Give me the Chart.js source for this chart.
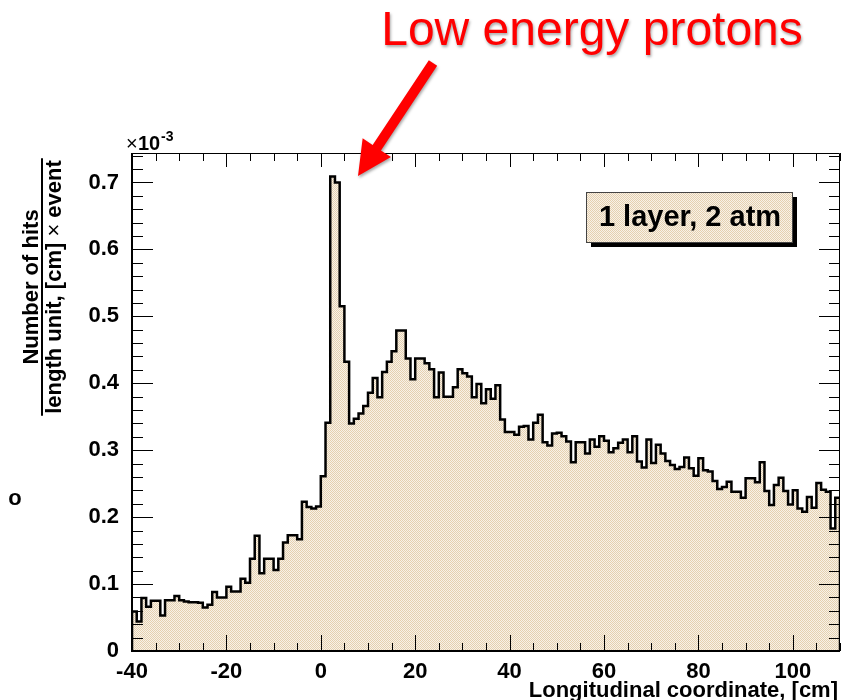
<!DOCTYPE html>
<html>
<head>
<meta charset="utf-8">
<script src="https://cdn.jsdelivr.net/npm/chart.js@4.4.1/dist/chart.umd.min.js"></script>
<style>
  html, body { margin: 0; padding: 0; background: #fff; }
  #wrap { position: relative; width: 854px; height: 700px; }
</style>
</head>
<body>
<div id="wrap"><canvas id="histo" width="854" height="700"></canvas></div>
<script>
// histogram: 1 cm bins from -40 to 110 cm, values in units of 1e-3
const binStart = -40;
const binWidth = 1;
const hitsBack = [0.059, 0.044, 0.079, 0.066, 0.075, 0.075, 0.053, 0.076, 0.076, 0.082, 0.076, 0.074, 0.073,
                  0.073, 0.072, 0.065, 0.069, 0.088, 0.080, 0.080, 0.096, 0.089, 0.089, 0.108, 0.102];
const hitsRise = [0.138, 0.172, 0.116, 0.138, 0.138, 0.121, 0.138, 0.162, 0.173, 0.173, 0.167, 0.223, 0.215, 0.213, 0.216];
const hitsPeak = [0.261, 0.341, 0.709, 0.700, 0.515, 0.432, 0.340, 0.347, 0.355, 0.366];
const hitsMid = [0.386, 0.408, 0.379, 0.417, 0.432, 0.448, 0.479, 0.479, 0.437, 0.406, 0.437, 0.437,
                 0.430, 0.421, 0.379, 0.416, 0.380, 0.380, 0.394, 0.421, 0.415, 0.410, 0.379, 0.399];
const hitsFar = [0.370, 0.391, 0.377, 0.397, 0.346, 0.327, 0.327, 0.323, 0.335, 0.336, 0.316, 0.341,
                 0.353, 0.312, 0.307, 0.325, 0.326, 0.321, 0.313, 0.282, 0.312, 0.312, 0.295, 0.316];
const hitsTail = [0.305, 0.321, 0.314, 0.297, 0.303, 0.311, 0.316, 0.297, 0.321, 0.283, 0.274, 0.316, 0.281,
                  0.308, 0.295, 0.284, 0.278, 0.272, 0.275, 0.289, 0.273, 0.262, 0.288, 0.270, 0.268, 0.254];
const hitsEnd = [0.242, 0.245, 0.253, 0.238, 0.238, 0.229, 0.258, 0.258, 0.252, 0.282, 0.239, 0.218, 0.248,
                 0.259, 0.239, 0.219, 0.240, 0.213, 0.208, 0.230, 0.214, 0.251, 0.241, 0.238, 0.183, 0.229];

const xTicks = [-40, -20, 0, 20, 40, 60, 80, 100];
const yTicks = [0, 0.1, 0.2, 0.3, 0.4, 0.5, 0.6, 0.7];
const yMax = 0.744;

const hits = [].concat(hitsBack, hitsRise, hitsPeak, hitsMid, hitsFar, hitsTail, hitsEnd);
const xEnd = binStart + hits.length * binWidth;

// step outline: each point holds the bin's value from its low edge
const steps = [{ x: binStart, y: 0 }];
hits.forEach((v, i) => steps.push({ x: binStart + i * binWidth, y: v }));
steps.push({ x: xEnd, y: hits[hits.length - 1] });
steps.push({ x: xEnd, y: 0 });

const canvas = document.getElementById("histo");
const ctx0 = canvas.getContext("2d");

// beige dotted fill like the ROOT pattern
function beigePattern() {
    const c = document.createElement("canvas");
    c.width = 2; c.height = 2;
    const g = c.getContext("2d");
    g.fillStyle = "#f8f2e8";
    g.fillRect(0, 0, 2, 2);
    g.fillStyle = "#e5d0b0";
    g.fillRect(0, 0, 1, 1);
    g.fillRect(1, 1, 1, 1);
    return ctx0.createPattern(c, "repeat");
}
const fillPat = beigePattern();

const FONT = '"Liberation Sans", Arial, Helvetica, sans-serif';

// frame, ROOT style ticks and all the extra labels
const rootDecor = {
    id: "rootDecor",
    afterDraw(chart) {
        const { ctx, chartArea: a, scales } = chart;
        const x = scales.x, y = scales.y;
        ctx.save();

        // ticks
        ctx.strokeStyle = "#000";
        ctx.lineWidth = 1;
        ctx.beginPath();
        for (let v = -40; v <= 110; v += 5) {
            const px = Math.round(x.getPixelForValue(v)) + 0.5;
            const big = v % 20 === 0;
            ctx.moveTo(px, a.bottom);
            ctx.lineTo(px, a.bottom - (big ? 16 : 8));
            ctx.moveTo(px, a.top);
            ctx.lineTo(px, a.top + (big ? 14 : 8));
        }
        for (let k = 0; k <= 37; k++) {
            const py = Math.round(y.getPixelForValue(k * 0.02)) + 0.5;
            const big = k % 5 === 0;
            ctx.moveTo(a.left, py);
            ctx.lineTo(a.left + (big ? 21 : 11), py);
            ctx.moveTo(a.right, py);
            ctx.lineTo(a.right - (big ? 21 : 11), py);
        }
        ctx.stroke();

        // frame
        ctx.beginPath();
        ctx.moveTo(a.left, a.top + 0.5);
        ctx.lineTo(a.right - 0.5, a.top + 0.5);
        ctx.lineTo(a.right - 0.5, a.bottom);
        ctx.stroke();
        ctx.lineWidth = 2;
        ctx.beginPath();
        ctx.moveTo(a.left, a.top);
        ctx.lineTo(a.left, a.bottom);
        ctx.lineTo(a.right, a.bottom);
        ctx.stroke();

        ctx.fillStyle = "#000";
        ctx.textBaseline = "alphabetic";

        // x10^-3 multiplier
        ctx.textAlign = "left";
        ctx.font = "20px " + FONT;
        ctx.fillText("\u00d7", 126, 150);
        ctx.font = "bold 20px " + FONT;
        ctx.fillText("10", 138, 150);
        ctx.font = "bold 14px " + FONT;
        ctx.fillText("-3", 161, 141);

        // y title as a fraction, rotated
        const cy = 287;
        ctx.save();
        ctx.translate(38, cy);
        ctx.rotate(-Math.PI / 2);
        ctx.textAlign = "center";
        ctx.font = "bold 22px " + FONT;
        ctx.fillText("Number of hits", 0, 0);
        ctx.restore();

        const parts = [["length unit, [cm] ", "bold 22px "], ["\u00d7", "22px "], [" event", "bold 22px "]];
        let W = 0;
        parts.forEach(p => { ctx.font = p[1] + FONT; W += ctx.measureText(p[0]).width; });
        ctx.save();
        ctx.translate(61, cy);
        ctx.rotate(-Math.PI / 2);
        ctx.textAlign = "left";
        let off = -W / 2;
        parts.forEach(p => {
            ctx.font = p[1] + FONT;
            ctx.fillText(p[0], off, 0);
            off += ctx.measureText(p[0]).width;
        });
        ctx.restore();
        ctx.lineWidth = 2;
        ctx.beginPath();
        ctx.moveTo(42, cy - W / 2 - 2);
        ctx.lineTo(42, cy + W / 2 + 2);
        ctx.stroke();

        // x title
        ctx.textAlign = "right";
        ctx.font = "bold 22px " + FONT;
        ctx.fillText("Longitudinal coordinate, [cm]", 838, 697);

        // stray marker on the left
        ctx.textAlign = "center";
        ctx.textBaseline = "middle";
        ctx.font = "bold 22px " + FONT;
        ctx.fillText("o", 15, 499);

        // label box with shadow
        ctx.fillStyle = "#000";
        ctx.fillRect(591, 197, 206, 50);
        ctx.fillStyle = fillPat;
        ctx.fillRect(586, 192, 206, 50);
        ctx.strokeStyle = "#444";
        ctx.lineWidth = 1;
        ctx.strokeRect(586.5, 192.5, 206, 50);
        ctx.fillStyle = "#000";
        ctx.font = "bold 29px " + FONT;
        ctx.fillText("1 layer, 2 atm", 690, 218);

        // red annotation
        ctx.save();
        ctx.shadowColor = "rgba(0,0,0,0.35)";
        ctx.shadowBlur = 3;
        ctx.shadowOffsetX = 1;
        ctx.shadowOffsetY = 2;
        ctx.fillStyle = "#ff0000";
        ctx.textAlign = "center";
        ctx.textBaseline = "alphabetic";
        ctx.font = "48px " + FONT;
        ctx.fillText("Low energy protons", 592, 45);

        const tail = { x: 433, y: 63 }, tip = { x: 358, y: 176 };
        const dx = tip.x - tail.x, dy = tip.y - tail.y;
        const len = Math.hypot(dx, dy);
        const ux = dx / len, uy = dy / len, nx = -uy, ny = ux;
        const bx = tip.x - ux * 34, by = tip.y - uy * 34;
        ctx.beginPath();
        ctx.moveTo(tail.x + nx * 5, tail.y + ny * 5);
        ctx.lineTo(bx + nx * 5, by + ny * 5);
        ctx.lineTo(bx + nx * 17, by + ny * 17);
        ctx.lineTo(tip.x, tip.y);
        ctx.lineTo(bx - nx * 17, by - ny * 17);
        ctx.lineTo(bx - nx * 5, by - ny * 5);
        ctx.lineTo(tail.x - nx * 5, tail.y - ny * 5);
        ctx.closePath();
        ctx.fill();
        ctx.restore();

        ctx.restore();
    }
};

new Chart(canvas, {
    type: "line",
    data: {
        datasets: [{
            data: steps,
            stepped: "before",
            fill: "origin",
            backgroundColor: fillPat,
            borderColor: "#000",
            borderWidth: 2.5,
            pointRadius: 0,
            tension: 0
        }]
    },
    options: {
        responsive: false,
        animation: false,
        devicePixelRatio: 1,
        layout: { padding: { top: 153, right: 14, left: 0, bottom: 0 } },
        plugins: {
            legend: { display: false },
            tooltip: { enabled: false }
        },
        scales: {
            x: {
                type: "linear",
                min: binStart,
                max: xEnd,
                afterBuildTicks: s => { s.ticks = xTicks.map(v => ({ value: v })); },
                afterFit: s => { s.height = 49; s.paddingLeft = 0; s.paddingRight = 0; },
                grid: { display: false },
                border: { display: false },
                ticks: {
                    color: "#000",
                    font: { family: FONT, weight: "bold", size: 22 },
                    padding: 0,
                    maxRotation: 0,
                    autoSkip: false,
                    callback: v => String(v)
                }
            },
            y: {
                type: "linear",
                min: 0,
                max: yMax,
                afterBuildTicks: s => { s.ticks = yTicks.map(v => ({ value: v })); },
                afterFit: s => { s.width = 132; s.paddingTop = 0; s.paddingBottom = 0; },
                grid: { display: false },
                border: { display: false },
                ticks: {
                    color: "#000",
                    font: { family: FONT, weight: "bold", size: 22 },
                    padding: 5,
                    autoSkip: false,
                    callback: v => (v === 0 ? "0" : v.toFixed(1))
                }
            }
        }
    },
    plugins: [rootDecor]
});
</script>
</body>
</html>
